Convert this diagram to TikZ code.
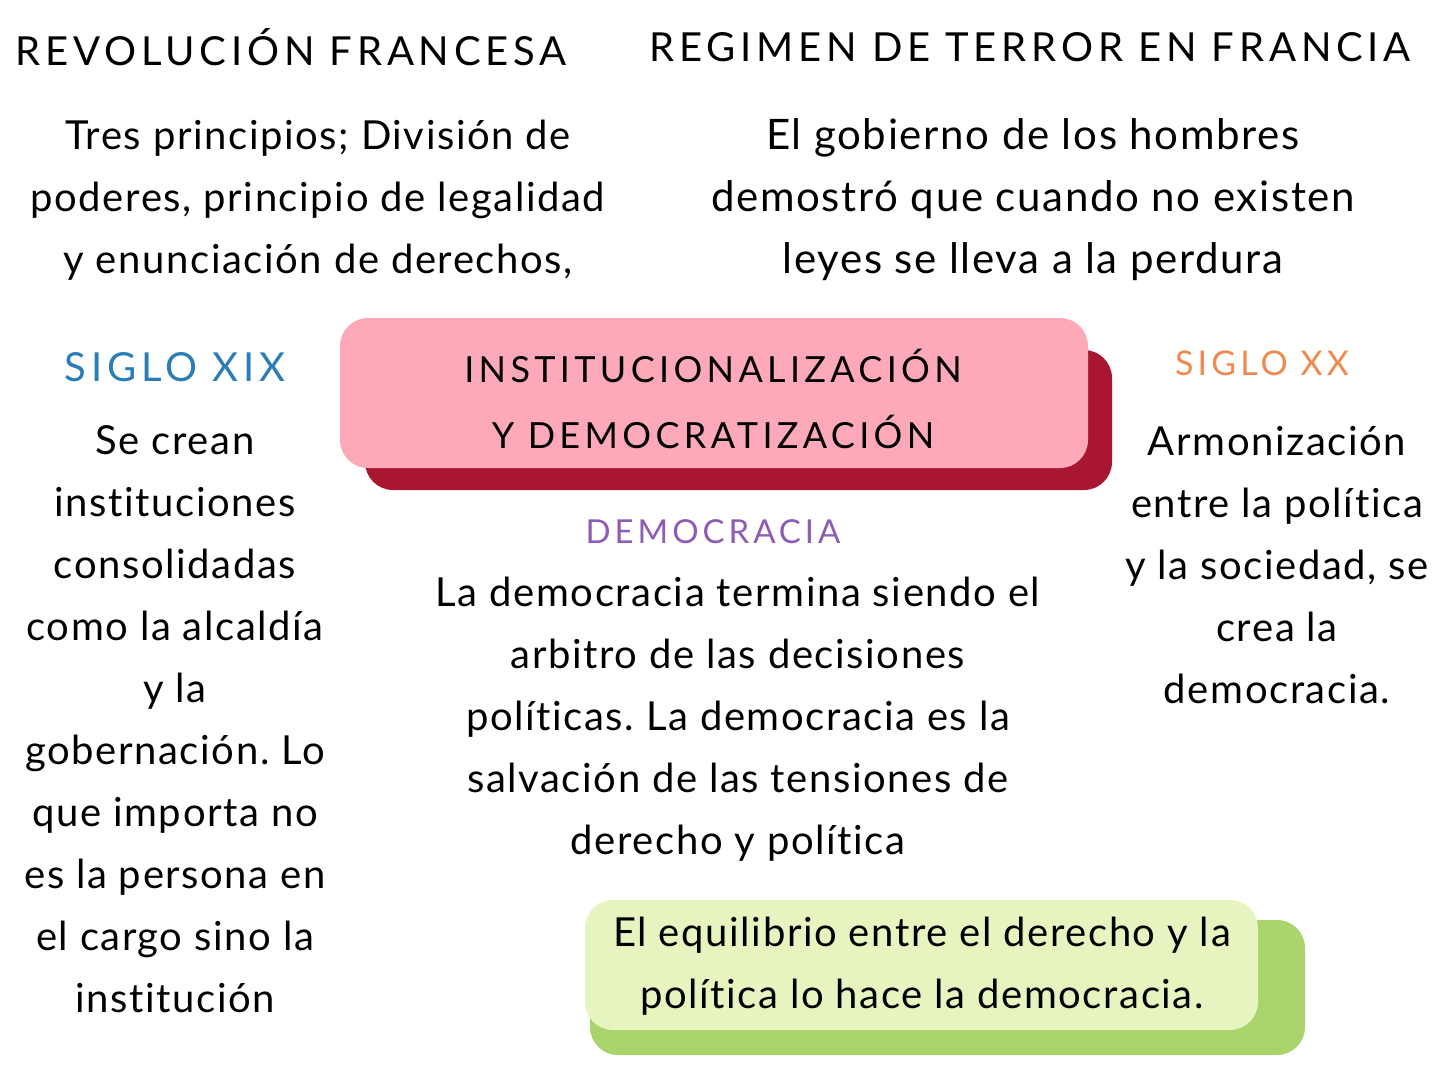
\documentclass[tikz,border=0pt]{standalone}
\usepackage{fontspec}
\setmainfont{Lato}[LetterSpace=4,Ligatures={NoCommon,NoRare,NoContextual}]
\newfontfamily\capsfont[LetterSpace=12]{Lato}
\definecolor{boxred}{HTML}{A8172F}
\definecolor{boxpink}{HTML}{FDA9B9}
\definecolor{boxgreen}{HTML}{A9D46B}
\definecolor{boxlime}{HTML}{E6F5C0}
\definecolor{xixblue}{HTML}{2A7DB5}
\definecolor{xxorange}{HTML}{F0894E}
\definecolor{demopurple}{HTML}{8E5BB5}
\frenchspacing
\begin{document}
\begin{tikzpicture}[x=1pt,y=-1pt]
\tikzstyle{every node}=[inner sep=0pt,align=center];
\tikzstyle{title}=[font=\capsfont\fontsize{40}{48}\selectfont];
\tikzstyle{head}=[font=\capsfont\fontsize{36}{44}\selectfont];
\tikzstyle{body}=[font=\fontsize{40}{62}\selectfont];
\tikzstyle{plate}=[rounded corners=28pt];
\useasboundingbox[fill=white] (0,0) rectangle (1439,1080);

% titles
\draw (291,47) node[title] (rev) {REVOLUCIÓN FRANCESA};
\draw (1030,47) node[title] (reg) {REGIMEN DE TERROR EN FRANCIA};
\draw (318,200) node[body] (princ) {Tres principios; División de\\poderes, principio de legalidad\\y enunciación de derechos,};
\draw (1033,200) node[body,font=\fontsize{42}{62}\selectfont] (gob) {El gobierno de los hombres\\demostró que cuando no existen\\leyes se lleva a la perdura};

% center box
\fill[boxred,plate] (365,350) rectangle (1112,490);
\fill[boxpink,plate] (340,318) rectangle (1088,468);
\draw (713,399) node[head,font=\capsfont\fontsize{36}{66}\selectfont] (inst) {INSTITUCIONALIZACIÓN\\Y DEMOCRATIZACIÓN};

% siglo xix
\draw (175,367) node[head,font=\capsfont\fontsize{40}{48}\selectfont,text=xixblue] (xix) {SIGLO XIX};
\draw (175,719) node[body] (cre) {Se crean\\instituciones\\consolidadas\\como la alcaldía\\y la\\gobernación. Lo\\que importa no\\es la persona en\\el cargo sino la\\institución};

% siglo xx
\draw (1262,363) node[head,font=\capsfont\fontsize{34}{40}\selectfont,text=xxorange] (xx) {SIGLO XX};
\draw (1277,565) node[body] (arm) {Armonización\\entre la política\\y la sociedad, se\\crea la\\democracia.};

% democracia
\draw (713,532) node[head,font=\capsfont\fontsize{33}{40}\selectfont,text=demopurple] (demo) {DEMOCRACIA};
\draw (738,719) node[body] (arb) {La democracia termina siendo el\\arbitro de las decisiones\\políticas. La democracia es la\\salvación de las tensiones de\\derecho y política};

% green box
\fill[boxgreen,plate] (590,920) rectangle (1305,1055);
\fill[boxlime,plate] (585,900) rectangle (1258,1030);
\draw (922,966) node[body] (equi) {El equilibrio entre el derecho y la\\política lo hace la democracia.};
\end{tikzpicture}
\end{document}
